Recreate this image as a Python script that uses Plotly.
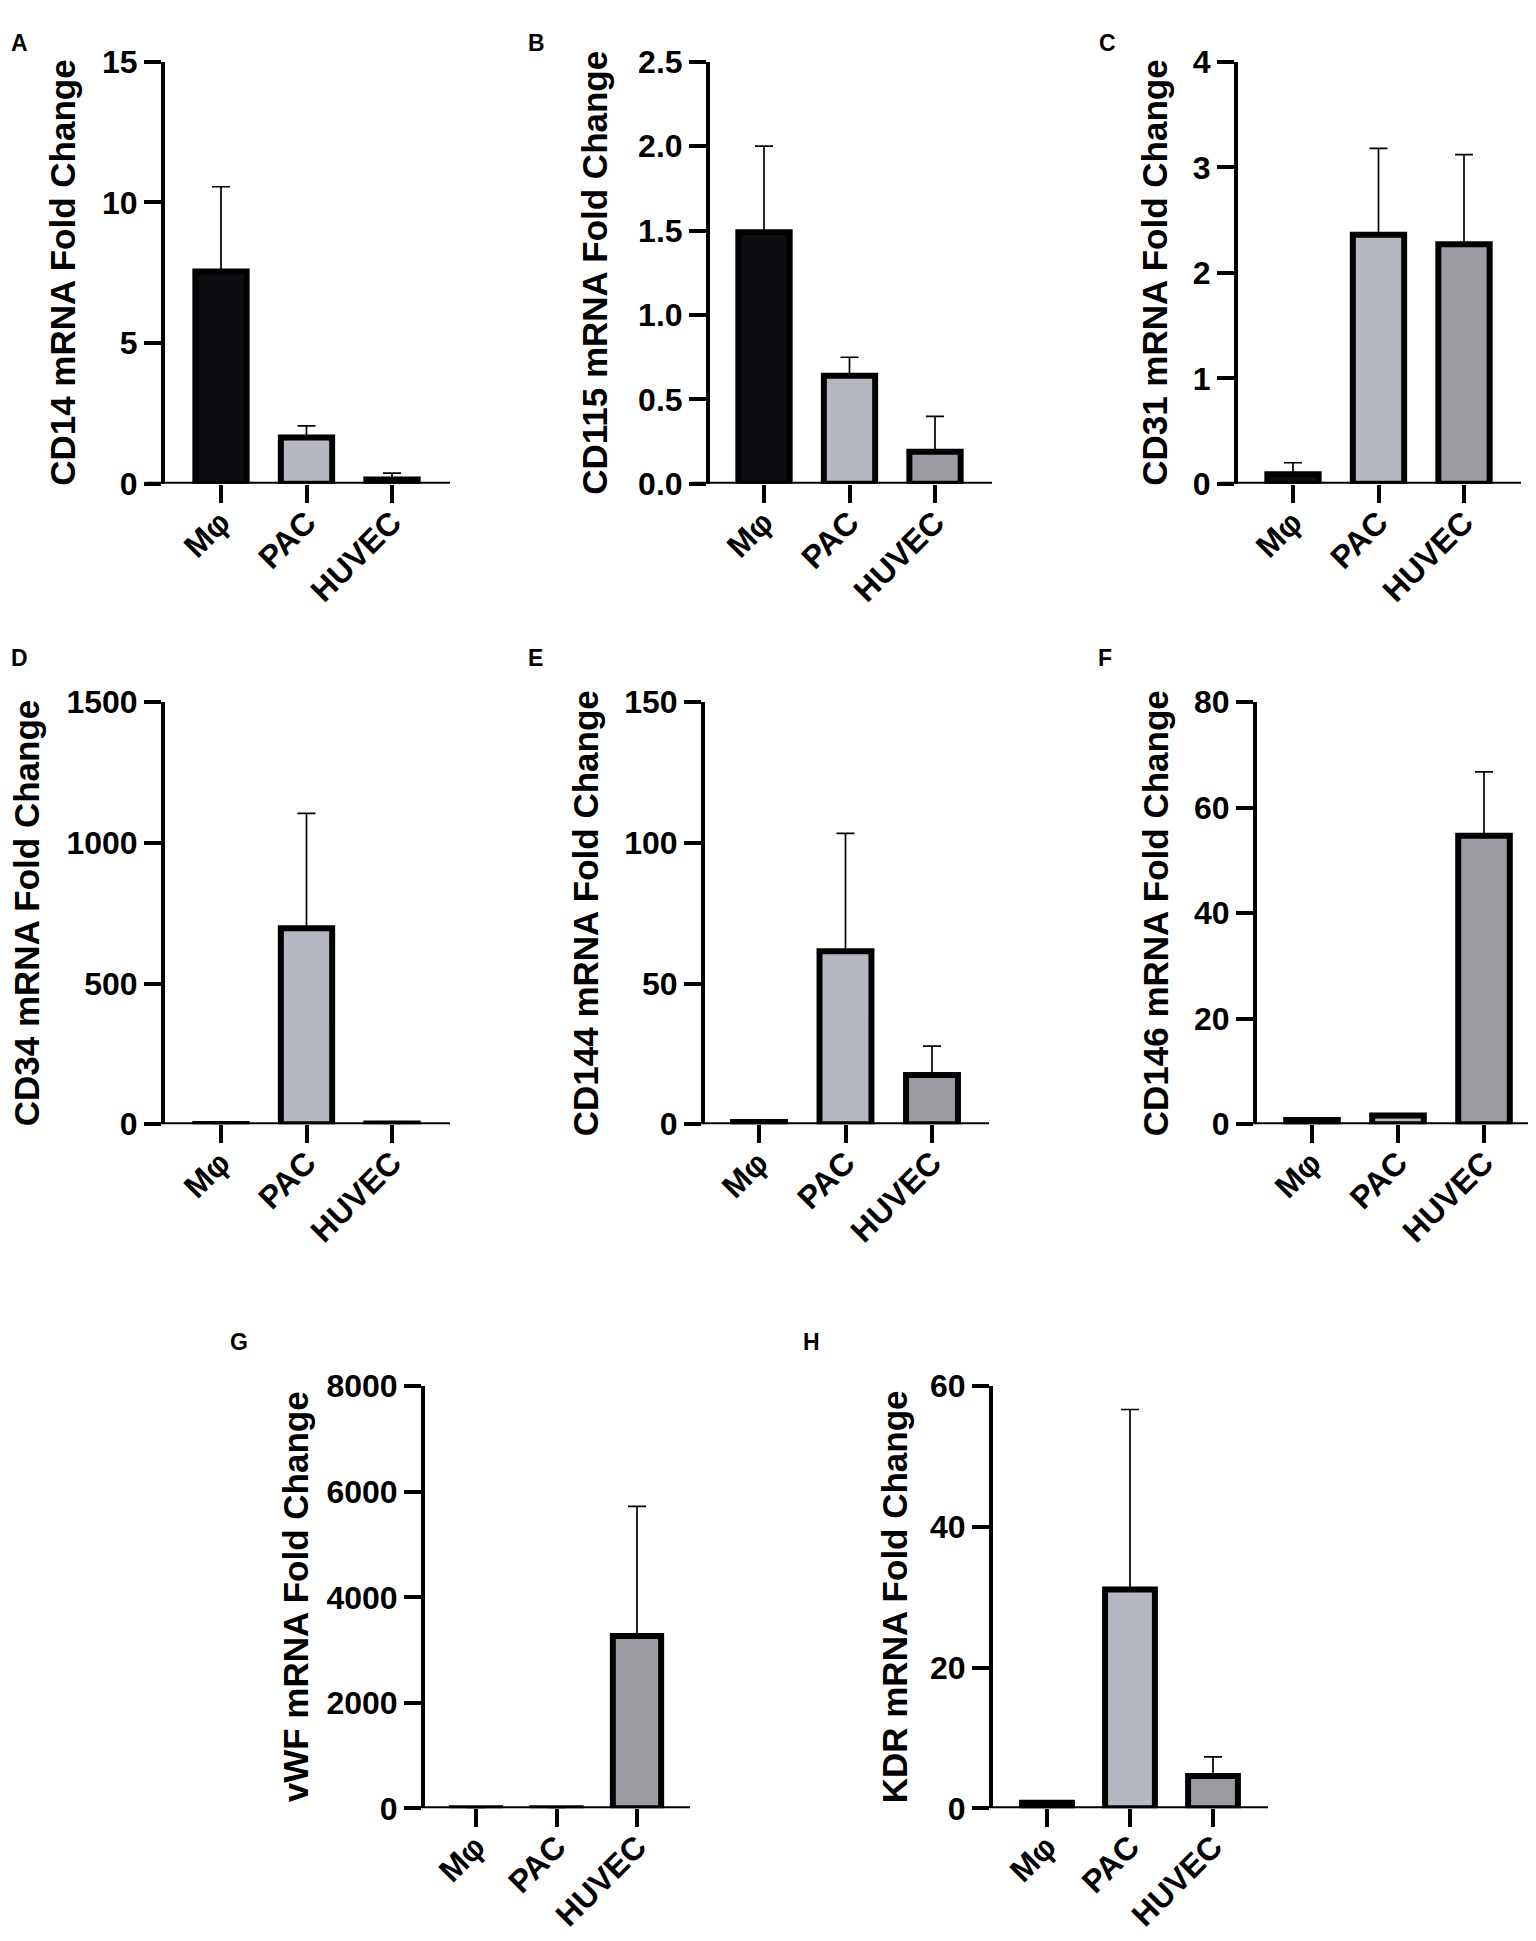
import plotly.graph_objects as go

W, H = 1536, 1941

categories = ["Mφ", "PAC", "HUVEC"]
bar_colors = ["#0e0d11", "#b5b8c0", "#9b9ca1"]

panel_letters = ["A", "B", "C", "D", "E", "F", "G", "H"]
y_titles = ["CD14 mRNA Fold Change", "CD115 mRNA Fold Change", "CD31 mRNA Fold Change",
            "CD34 mRNA Fold Change", "CD144 mRNA Fold Change", "CD146 mRNA Fold Change",
            "vWF mRNA Fold Change", "KDR mRNA Fold Change"]

# mean values per panel (Mφ, PAC, HUVEC)
cd14_mean = [7.55, 1.65, 0.15]
cd115_mean = [1.49, 0.64, 0.19]
cd31_mean = [0.09, 2.36, 2.27]
cd34_mean = [1.0, 697, 3.0]
cd144_mean = [0.8, 61.5, 17.5]
cd146_mean = [0.8, 1.67, 54.7]
vwf_mean = [1.0, 2.0, 3268]
kdr_mean = [0.8, 31.1, 4.6]

# top of error bar (mean + SD)
cd14_top = [10.56, 2.06, 0.38]
cd115_top = [2.0, 0.75, 0.40]
cd31_top = [0.20, 3.18, 3.12]
cd34_top = [1.0, 1105, 3.0]
cd144_top = [1.0, 103.4, 27.8]
cd146_top = [1.0, 1.9, 66.8]
vwf_top = [1.0, 2.0, 5724]
kdr_top = [1.0, 56.7, 7.3]

y_max = [15, 2.5, 4, 1500, 150, 80, 8000, 60]
y_ticks = [[0, 5, 10, 15], [0, 0.5, 1.0, 1.5, 2.0, 2.5], [0, 1, 2, 3, 4],
           [0, 500, 1000, 1500], [0, 50, 100, 150], [0, 20, 40, 60, 80],
           [0, 2000, 4000, 6000, 8000], [0, 20, 40, 60]]
y_tickfmt = ["d", ".1f", "d", "d", "d", "d", "d", "d"]

means = [cd14_mean, cd115_mean, cd31_mean, cd34_mean, cd144_mean, cd146_mean, vwf_mean, kdr_mean]
tops = [cd14_top, cd115_top, cd31_top, cd34_top, cd144_top, cd146_top, vwf_top, kdr_top]

# layout geometry (pixels): y-axis x, first tick x, category spacing, x-axis right end, row
geo = [
    (155, 213, 85.5, 442, 0), (700, 756, 85.5, 984, 0), (1228, 1285, 85.5, 1513, 0),
    (155, 213, 85.5, 442, 1), (695, 751, 86.5, 981, 1), (1247, 1304, 86.0, 1533, 1),
    (415, 468, 80.5, 682, 2), (983, 1039, 83.0, 1260, 2),
]
rows = [(36.5, 466.5), (689, 1119), (1386, 1816)]  # (top px, zero px)
title_x = [55, 587, 1147, 18, 577, 1147, 287, 886]
letter_pos = [(11, 17), (528, 17), (1099, 17), (11, 644), (527, 644), (1097, 644), (231, 1341), (803, 1341)]

FONT = "Liberation Sans, Arial, Helvetica, sans-serif"
TICKLEN = 17

fig = go.Figure()
annotations = []
shapes = []
for i in range(8):
    yx, t0, sp, xr, row = geo[i]
    top_px, zero_px = rows[row]
    xl = yx - TICKLEN
    n = "" if i == 0 else str(i + 1)
    err_plus = [t - m for t, m in zip(tops[i], means[i])]
    fig.add_trace(go.Bar(
        x=categories, y=means[i], width=0.6,
        marker=dict(color=bar_colors, line=dict(color="#000000", width=6)),
        error_y=dict(type="data", symmetric=False, array=err_plus, arrayminus=[0, 0, 0],
                     color="#000000", thickness=1.7, width=9),
        xaxis="x" + n, yaxis="y" + n, showlegend=False,
    ))
    left = -(t0 - xl) / sp
    right = 2 + (xr - (t0 + 2 * sp)) / sp
    fig.layout["xaxis" + n] = dict(
        domain=[xl / W, xr / W], anchor="y" + n, type="category",
        categoryorder="array", categoryarray=categories, range=[left, right],
        showline=False, showgrid=False, zeroline=False,
        ticks="outside", ticklen=18, tickwidth=4, tickcolor="#000000", tickangle=-45,
        ticklabelstandoff=-12,
        tickfont=dict(family=FONT, size=32, color="#000000", weight="bold"),
    )
    fig.layout["yaxis" + n] = dict(
        domain=[1 - zero_px / H, 1 - top_px / H], anchor="free", position=yx / W,
        range=[0, y_max[i]], tickvals=y_ticks[i], tickformat=y_tickfmt[i],
        showline=True, linecolor="#000000", linewidth=4, showgrid=False, zeroline=False,
        ticks="outside", ticklen=TICKLEN, tickwidth=4, tickcolor="#000000",
        tickfont=dict(family=FONT, size=32, color="#000000", weight="bold"),
    )
    # x-axis baseline centred on zero
    shapes.append(dict(
        type="line", xref="x" + n + " domain", yref="y" + n,
        x0=0, x1=1, y0=0, y1=0, line=dict(color="#000000", width=4), layer="above",
    ))
    annotations.append(dict(
        text=y_titles[i], xref="paper", yref="paper",
        x=title_x[i] / W, y=1 - ((top_px + zero_px) / 2) / H,
        xanchor="center", yanchor="middle", textangle=-90, showarrow=False,
        font=dict(family=FONT, size=35, color="#000000", weight="bold"),
    ))
    lx, ly = letter_pos[i]
    annotations.append(dict(
        text=panel_letters[i], xref="paper", yref="paper", x=lx / W, y=1 - ly / H,
        xanchor="center", yanchor="middle", showarrow=False,
        font=dict(family=FONT, size=23, color="#000000", weight="bold"),
    ))

fig.update_layout(
    width=W, height=H, margin=dict(l=0, r=0, t=0, b=0),
    paper_bgcolor="#ffffff", plot_bgcolor="#ffffff",
    annotations=annotations, shapes=shapes, bargap=0.4,
)
fig.write_html("out.html")
